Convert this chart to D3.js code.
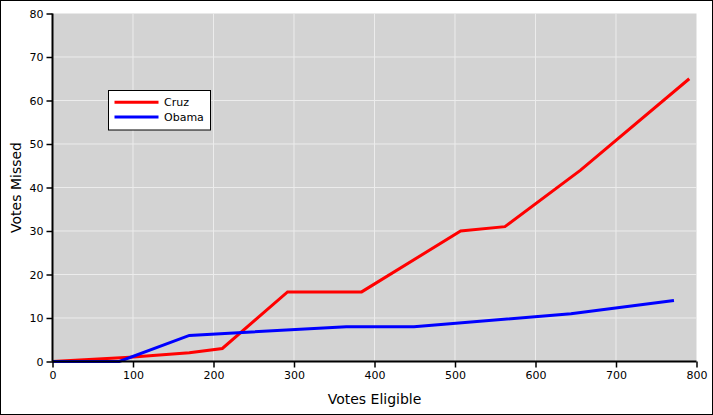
<!DOCTYPE html>
<html><head><meta charset="utf-8">
<script src="https://cdn.jsdelivr.net/npm/d3@7"></script>
<style>
html,body{margin:0;padding:0;background:#fff;}
svg{display:block;font-family:"DejaVu Sans",sans-serif;}
</style></head>
<body><svg id="c" width="713" height="415"></svg>
<script>
const seriesNames = ["Cruz", "Obama"];
const seriesColors = ["#ff0000", "#0000ff"];
const cruzX = [0, 96, 170, 211, 292, 384, 507, 562, 656, 791];
const cruzY = [0, 1, 2, 3, 16, 16, 30, 31, 44, 65];
const obamaX = [0, 83, 170, 365, 449, 644, 772];
const obamaY = [0, 0, 6, 8, 8, 11, 14];
const xTicks = [0, 100, 200, 300, 400, 500, 600, 700, 800];
const yTicks = [0, 10, 20, 30, 40, 50, 60, 70, 80];
const xTitle = "Votes Eligible";
const yTitle = "Votes Missed";

const svg = d3.select("#c");
const W = 713, H = 415;
const L = 52.5, R = 696.5, T = 13.5, B = 361.5;

svg.append("rect").attr("x",0.5).attr("y",0.5).attr("width",W-1).attr("height",H-1)
  .attr("fill","#fff").attr("stroke","#000").attr("stroke-width",1);

const x = d3.scaleLinear().domain([0,800]).range([L,R]);
const y = d3.scaleLinear().domain([0,80]).range([B,T]);

svg.append("rect").attr("x",L).attr("y",T).attr("width",R-L).attr("height",B-T).attr("fill","#d3d3d3");

const g = svg.append("g");
g.selectAll(".gx").data(xTicks.slice(1,-1)).enter().append("line")
  .attr("x1",d=>x(d)).attr("x2",d=>x(d)).attr("y1",T).attr("y2",B)
  .attr("stroke","#ececec").attr("stroke-width",1);
g.selectAll(".gy").data(yTicks.slice(1,-1)).enter().append("line")
  .attr("y1",d=>y(d)).attr("y2",d=>y(d)).attr("x1",L).attr("x2",R)
  .attr("stroke","#ececec").attr("stroke-width",1);

const line = d3.line().x(d=>x(d[0])).y(d=>y(d[1]));
const data = [d3.zip(cruzX,cruzY), d3.zip(obamaX,obamaY)];
data.forEach((d,i)=>{
  svg.append("path").attr("d",line(d)).attr("fill","none")
    .attr("stroke",seriesColors[i]).attr("stroke-width",3).attr("stroke-linejoin","miter");
});

const xAxis = d3.axisBottom(x).tickValues(xTicks).tickSize(6).tickPadding(4);
const gx = svg.append("g").attr("transform",`translate(0,${B})`).call(xAxis);
const yAxis = d3.axisLeft(y).tickValues(yTicks).tickSize(6).tickPadding(3);
const gy = svg.append("g").attr("transform",`translate(${L},0)`).call(yAxis);
[gx,gy].forEach(a=>{
  a.selectAll("path.domain").attr("stroke","#000").attr("stroke-width",2);
  a.selectAll(".tick line").attr("stroke","#000").attr("stroke-width",1.5);
  a.selectAll("text").attr("font-family","DejaVu Sans").attr("font-size",11).attr("fill","#000");
});
gx.select("path.domain").attr("d",`M${L},0H${R}`);
gy.select("path.domain").attr("d",`M0,${T}V${B}`);

svg.append("text").attr("x",(L+R)/2).attr("y",404).attr("text-anchor","middle")
  .attr("font-size",14).text(xTitle);
svg.append("text").attr("transform",`translate(21,${(T+B)/2}) rotate(-90)`)
  .attr("text-anchor","middle").attr("font-size",14).text(yTitle);

const lg = svg.append("g");
lg.append("rect").attr("x",108.5).attr("y",90.5).attr("width",102).attr("height",39.5)
  .attr("fill","#fff").attr("stroke","#000").attr("stroke-width",1);
seriesNames.forEach((n,i)=>{
  const yy = 102.3 + i*14.7;
  lg.append("line").attr("x1",114.5).attr("x2",158.5).attr("y1",yy).attr("y2",yy)
    .attr("stroke",seriesColors[i]).attr("stroke-width",3);
  lg.append("text").attr("x",164).attr("y",yy+4).attr("font-size",11).text(n);
});
</script></body></html>
